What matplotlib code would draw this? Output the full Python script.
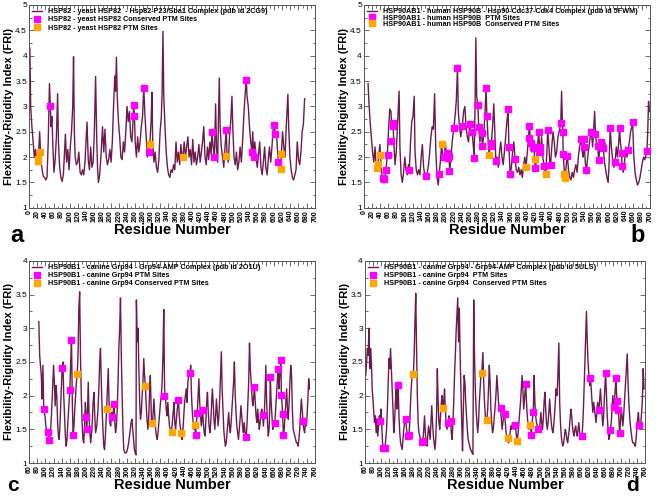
import matplotlib
matplotlib.use('Agg')
import matplotlib.pyplot as plt
from matplotlib.ticker import MultipleLocator

plt.rcParams['font.family'] = ['Liberation Sans', 'DejaVu Sans']

LINE_COLOR = '#6e1a4e'
MAGENTA = '#ff00ff'
ORANGE = '#ffa500'

# ---- panel a: yeast HSP82 (2CG9) ----
a_profile = [
    (2, 4.15), (4, 3.0), (7, 2.6), (10, 2.3), (13, 2.0), (16, 2.15), (19, 1.85), (21, 1.95), (23, 2.0),
    (26, 2.5), (29, 1.95), (32, 1.75), (35, 1.62), (38, 1.6), (41, 1.55), (44, 1.6), (47, 2.3), (50, 3.45),
    (52, 3.0), (54, 2.6), (56, 2.8), (58, 2.3), (61, 1.7), (64, 1.95), (67, 2.4), (70, 3.25), (72, 2.3),
    (75, 1.8), (78, 1.6), (81, 1.52), (84, 1.65), (87, 2.1), (89, 2.45), (92, 1.9), (95, 2.15), (98, 1.75),
    (101, 2.2), (104, 2.5), (107, 3.0), (109, 3.98), (111, 2.5), (113, 2.0), (116, 1.85), (119, 1.9),
    (122, 2.1), (125, 1.7), (128, 1.65), (131, 1.75), (134, 1.65), (137, 1.9), (140, 2.4), (142, 2.69),
    (145, 1.95), (148, 1.75), (151, 2.2), (154, 1.8), (157, 1.9), (160, 2.5), (163, 3.59), (166, 2.3),
    (168, 1.75), (170, 1.5), (173, 1.65), (176, 2.0), (180, 2.6), (183, 2.1), (186, 2.55), (189, 2.0),
    (192, 1.85), (195, 1.95), (198, 2.15), (201, 1.9), (204, 2.3), (207, 3.0), (210, 3.6), (212, 3.3),
    (214, 3.97), (216, 3.2), (219, 2.7), (222, 2.4), (225, 2.0), (228, 1.95), (231, 2.3), (234, 2.1),
    (237, 2.5), (240, 3.0), (243, 2.7), (246, 2.9), (249, 2.4), (252, 2.3), (254, 2.6), (256, 3.03),
    (258, 2.85), (260, 2.3), (263, 2.0), (266, 2.4), (269, 2.1), (272, 2.3), (275, 2.6), (278, 2.8),
    (281, 3.38), (284, 2.8), (287, 2.4), (290, 2.0), (293, 2.1), (296, 2.26), (299, 2.7), (301, 3.28),
    (303, 2.3), (306, 1.9), (309, 2.1), (312, 1.8), (315, 1.7), (318, 1.95), (321, 2.5), (324, 2.8),
    (326, 3.3), (328, 4.48), (330, 3.2), (333, 2.6), (336, 2.1), (339, 1.8), (342, 1.65), (345, 1.6),
    (348, 1.75), (351, 1.7), (354, 1.85), (357, 1.75), (360, 2.3), (363, 1.9), (366, 2.1), (369, 1.85),
    (372, 2.25), (375, 1.95), (377, 2.0), (380, 2.3), (383, 2.0), (386, 2.2), (389, 2.4), (392, 2.0),
    (395, 2.15), (398, 1.85), (401, 2.35), (404, 1.9), (407, 2.1), (410, 1.85), (413, 2.0), (416, 2.25),
    (419, 1.9), (422, 2.1), (425, 2.3), (428, 2.6), (431, 2.0), (434, 1.85), (437, 2.2), (440, 1.95),
    (443, 2.3), (446, 2.05), (448, 2.49), (451, 2.2), (454, 2.0), (457, 3.05), (459, 2.2), (462, 1.9),
    (464, 2.8), (466, 3.56), (468, 2.6), (471, 2.2), (474, 2.0), (477, 1.8), (480, 2.2), (483, 2.53),
    (485, 2.05), (488, 1.9), (491, 2.4), (494, 2.7), (497, 3.2), (499, 2.6), (502, 2.0), (505, 1.85),
    (508, 2.1), (511, 1.75), (514, 1.9), (517, 2.2), (520, 1.9), (523, 2.3), (526, 2.8), (529, 3.2),
    (532, 3.55), (534, 3.2), (537, 3.0), (540, 2.6), (543, 2.3), (546, 2.1), (548, 2.5), (550, 2.01),
    (553, 2.3), (556, 2.0), (559, 1.8), (562, 2.05), (565, 2.3), (568, 1.8), (571, 1.65), (574, 1.9),
    (577, 2.2), (580, 1.8), (583, 1.65), (586, 1.95), (589, 2.2), (592, 1.9), (595, 2.2), (598, 2.55),
    (601, 2.63), (603, 2.45), (606, 2.5), (608, 2.2), (611, 1.9), (614, 1.75), (616, 1.77), (618, 2.07),
    (621, 2.5), (624, 2.2), (627, 2.0), (630, 2.6), (634, 3.24), (636, 2.6), (639, 2.0), (642, 1.75),
    (645, 1.6), (648, 1.55), (651, 1.65), (654, 1.75), (657, 2.3), (660, 1.95), (663, 1.85), (666, 2.1),
    (669, 2.5), (672, 2.65), (675, 3.15),
]
a_magenta = [(52, 3.01), (256, 3.03), (258, 2.82), (281, 3.37), (293, 2.10), (448, 2.49), (454, 2.00),
             (483, 2.53), (532, 3.52), (546, 2.10), (550, 2.01), (601, 2.63), (603, 2.45), (611, 1.90)]
a_orange = [(21, 1.93), (22, 1.97), (26, 2.11), (296, 2.26), (377, 2.00), (483, 2.03), (616, 1.77), (618, 2.07)]
a_labels = ['HSP82 - yeast HSP82  - Hsp82-P23/Sba1 Complex (pdb id 2CG9)',
            'HSP82 - yeast HSP82 Conserved PTM Sites',
            'HSP82 - yeast HSP82 PTM Sites']

# ---- panel b: human HSP90B (5FWM) ----
b_profile = [
    (10, 3.45), (12, 3.1), (15, 2.7), (18, 2.4), (21, 2.1), (24, 1.9), (27, 2.2), (30, 1.75), (33, 1.8),
    (36, 2.0), (39, 2.25), (42, 1.8), (45, 1.6), (48, 1.5), (51, 1.6), (54, 1.75), (57, 2.05), (60, 2.5),
    (63, 2.95), (66, 2.9), (68, 2.6), (71, 2.67), (73, 2.3), (76, 1.85), (79, 2.1), (82, 2.6), (86, 3.3),
    (88, 2.2), (91, 1.65), (94, 1.5), (97, 1.7), (100, 2.0), (103, 1.75), (106, 1.65), (109, 1.85),
    (111, 1.74), (114, 2.3), (117, 2.7), (120, 2.8), (123, 3.2), (125, 2.1), (128, 1.75), (131, 1.65),
    (134, 1.75), (137, 1.65), (140, 2.0), (143, 2.25), (146, 1.8), (149, 1.65), (152, 1.62), (155, 1.7),
    (158, 1.85), (161, 2.1), (164, 2.4), (167, 2.6), (170, 2.55), (173, 3.25), (176, 2.1), (179, 1.6),
    (182, 1.45), (184, 1.67), (187, 1.9), (190, 2.25), (193, 2.0), (196, 1.95), (199, 2.3), (202, 2.05),
    (205, 2.0), (208, 2.05), (210, 1.73), (213, 2.0), (216, 2.3), (220, 2.57), (223, 2.8), (226, 3.1),
    (229, 3.75), (231, 2.9), (234, 2.6), (237, 2.4), (241, 2.62), (244, 2.9), (247, 3.0), (250, 2.6),
    (253, 2.4), (256, 2.3), (259, 2.66), (262, 2.5), (265, 2.5), (268, 2.2), (270, 1.98), (272, 3.0),
    (274, 4.35), (276, 3.2), (279, 3.02), (281, 2.6), (284, 2.3), (286, 2.5), (288, 2.48), (290, 2.22),
    (293, 2.4), (296, 2.8), (299, 3.36), (301, 2.82), (303, 2.5), (306, 2.04), (309, 2.2), (312, 2.28),
    (315, 2.6), (318, 3.05), (321, 2.4), (323, 1.93), (326, 2.0), (329, 1.8), (332, 2.1), (335, 2.3),
    (338, 2.0), (341, 1.85), (344, 2.1), (347, 2.4), (350, 2.7), (353, 2.94), (355, 2.2), (358, 1.66),
    (361, 1.8), (364, 2.1), (367, 2.3), (370, 1.97), (373, 1.75), (376, 1.7), (379, 1.8), (382, 1.65),
    (385, 1.75), (388, 1.6), (391, 1.85), (394, 2.0), (397, 1.81), (400, 2.1), (403, 2.38), (405, 2.62),
    (407, 2.4), (409, 2.27), (411, 2.1), (413, 2.2), (416, 2.18), (418, 1.97), (420, 1.78), (423, 2.0),
    (426, 2.3), (428, 2.5), (430, 2.2), (432, 2.1), (435, 2.4), (438, 2.0), (441, 1.83), (443, 1.75),
    (445, 1.67), (448, 2.1), (450, 2.54), (453, 2.2), (455, 1.9), (457, 1.85), (460, 2.2), (463, 2.5),
    (466, 2.3), (469, 2.0), (472, 2.1), (475, 2.4), (478, 2.5), (482, 2.67), (484, 3.3), (486, 2.7),
    (487, 2.5), (488, 2.06), (490, 1.8), (491, 1.67), (492, 1.58), (494, 1.7), (496, 1.9), (498, 2.03),
    (501, 1.75), (504, 1.6), (507, 1.55), (510, 1.7), (513, 1.6), (516, 1.75), (519, 1.85), (522, 1.7),
    (525, 2.0), (528, 2.2), (532, 2.35), (535, 2.1), (537, 2.0), (539, 2.35), (540, 2.2), (542, 1.9),
    (545, 1.74), (548, 2.0), (551, 2.2), (554, 2.4), (557, 2.49), (560, 2.2), (563, 2.6), (565, 2.9),
    (567, 2.46), (569, 2.3), (572, 2.22), (575, 1.95), (577, 2.1), (580, 2.3), (583, 2.22), (586, 2.18),
    (589, 1.9), (592, 1.75), (595, 1.6), (598, 1.5), (600, 1.8), (603, 2.57), (606, 2.2), (609, 1.95),
    (612, 1.8), (615, 1.9), (618, 2.2), (621, 2.0), (624, 2.3), (626, 2.58), (628, 2.3), (631, 2.08),
    (632, 1.82), (635, 1.7), (638, 1.9), (641, 2.2), (644, 2.0), (647, 2.14), (650, 2.3), (653, 2.5),
    (656, 2.6), (658, 2.7), (661, 2.0), (664, 1.7), (667, 1.55), (670, 1.45), (673, 1.5), (676, 1.6),
    (679, 1.75), (682, 1.9), (685, 2.0), (688, 1.95), (691, 2.05), (693, 2.12), (695, 2.5), (697, 3.1),
    (699, 2.9),
]
b_magenta = [(46, 1.58), (49, 1.56), (55, 1.74), (58, 2.04), (66, 2.32), (71, 2.67), (72, 2.62), (111, 1.74),
             (152, 1.62), (184, 1.67), (197, 2.01), (204, 2.08), (206, 1.98), (208, 2.02), (209, 1.73),
             (220, 2.57), (229, 3.75), (241, 2.62), (259, 2.66), (265, 2.50), (270, 1.98), (279, 3.02),
             (281, 2.60), (288, 2.48), (290, 2.22), (299, 3.36), (301, 2.82), (311, 2.22), (312, 2.28),
             (323, 1.93), (353, 2.94), (355, 2.20), (358, 1.66), (370, 1.97), (403, 2.38), (405, 2.62),
             (409, 2.27), (413, 2.20), (416, 2.18), (420, 1.78), (428, 2.50), (431, 2.10), (432, 2.20),
             (441, 1.83), (450, 2.54), (457, 1.85), (482, 2.67), (487, 2.50), (488, 2.06), (498, 2.03),
             (532, 2.35), (539, 2.35), (540, 2.20), (545, 1.74), (557, 2.49), (567, 2.46), (572, 2.22),
             (575, 1.95), (580, 2.30), (583, 2.22), (586, 2.18), (603, 2.57), (615, 1.90), (626, 2.58),
             (631, 2.08), (632, 1.82), (647, 2.14), (658, 2.70), (693, 2.12)]
b_orange = [(33, 1.78), (34, 1.86), (39, 2.04), (190, 2.25), (306, 2.04), (397, 1.81), (418, 1.97),
            (445, 1.67), (491, 1.67), (492, 1.58)]
b_labels = ['HSP90AB1 - human HSP90B - Hsp90-Cdc37-Cdk4 Complex (pdb id 5FWM)',
            'HSP90AB1 - human HSP90B  PTM Sites',
            'HSP90AB1 - human HSP90B  Conserved PTM Sites']

# ---- panel c: canine Grp94 (2O1U) ----
c_profile = [
    (84, 3.1), (86, 2.6), (88, 2.45), (90, 2.3), (92, 1.95), (94, 2.45), (96, 1.8), (99, 1.7), (102, 1.5),
    (104, 1.45), (106, 1.46), (108, 1.34), (110, 1.3), (112, 1.45), (114, 1.6), (117, 2.0), (120, 2.45),
    (122, 2.2), (124, 1.85), (126, 2.15), (128, 2.0), (130, 1.6), (132, 1.4), (134, 1.35), (136, 1.6),
    (139, 2.1), (141, 2.41), (143, 2.5), (145, 2.0), (147, 1.7), (149, 1.4), (151, 1.25), (153, 1.35),
    (155, 1.6), (158, 1.9), (160, 2.09), (162, 2.5), (164, 2.83), (166, 1.9), (168, 1.41), (170, 1.55),
    (172, 1.8), (174, 2.0), (176, 2.2), (178, 2.32), (180, 2.6), (182, 3.3), (184, 3.54), (186, 2.6),
    (188, 2.0), (190, 1.6), (192, 1.35), (194, 1.3), (196, 1.55), (198, 1.9), (200, 1.68), (201, 1.5),
    (203, 1.7), (205, 2.2), (207, 1.7), (209, 1.45), (211, 1.3), (214, 1.5), (217, 1.9), (219, 2.05),
    (221, 1.7), (223, 1.45), (226, 1.55), (229, 1.8), (231, 2.1), (233, 2.5), (235, 2.7), (237, 2.2),
    (239, 1.8), (241, 1.5), (243, 1.25), (245, 1.2), (247, 1.4), (249, 1.65), (250, 1.8), (252, 2.1),
    (254, 2.4), (256, 1.9), (258, 1.6), (260, 1.55), (262, 1.75), (264, 1.68), (266, 1.75), (268, 1.88),
    (270, 1.6), (272, 1.45), (274, 1.55), (276, 1.8), (278, 2.2), (280, 2.7), (282, 3.0), (284, 3.45),
    (286, 2.6), (288, 2.0), (290, 1.5), (292, 1.2), (295, 1.15), (298, 1.15), (301, 1.2), (304, 1.3),
    (307, 1.45), (310, 1.6), (312, 1.65), (314, 1.5), (316, 1.35), (318, 1.2), (320, 1.15), (322, 1.12),
    (323, 3.42), (325, 2.8), (327, 3.0), (329, 2.4), (331, 1.9), (333, 1.65), (335, 1.75), (337, 2.0),
    (339, 2.2), (341, 2.55), (343, 2.3), (345, 2.14), (347, 1.85), (349, 1.65), (351, 1.5), (353, 1.65),
    (355, 2.0), (357, 2.3), (359, 1.8), (360, 1.6), (362, 1.55), (364, 1.75), (366, 1.95), (368, 1.7),
    (370, 1.5), (372, 1.4), (374, 1.35), (376, 1.45), (378, 1.6), (380, 1.75), (382, 1.9), (384, 2.0),
    (386, 2.2), (388, 2.6), (390, 3.28), (392, 2.1), (394, 1.99), (396, 1.8), (398, 1.7), (400, 1.9),
    (402, 1.7), (404, 1.55), (406, 1.5), (409, 1.46), (411, 1.6), (413, 1.75), (415, 1.9), (417, 1.6),
    (419, 1.5), (421, 1.65), (423, 1.8), (426, 1.93), (428, 1.7), (430, 1.55), (433, 1.45), (435, 1.35),
    (437, 1.5), (439, 1.7), (441, 1.9), (443, 2.0), (445, 2.1), (447, 1.9), (449, 2.2), (451, 2.3),
    (454, 2.33), (456, 2.45), (458, 2.0), (460, 1.75), (462, 1.6), (464, 1.5), (466, 1.57), (468, 1.41),
    (470, 1.6), (472, 1.74), (474, 2.0), (476, 2.25), (478, 1.9), (480, 1.7), (482, 1.55), (485, 1.78),
    (487, 1.6), (489, 1.45), (491, 1.4), (493, 1.6), (495, 1.9), (497, 2.05), (499, 1.75), (501, 1.55),
    (503, 1.45), (505, 1.6), (507, 1.85), (509, 2.1), (511, 1.9), (513, 1.65), (515, 1.5), (517, 1.7),
    (519, 1.95), (521, 1.75), (523, 1.55), (525, 1.7), (527, 1.95), (529, 2.3), (531, 2.65), (533, 2.1),
    (535, 1.8), (537, 1.5), (539, 1.35), (541, 1.25), (543, 1.3), (545, 1.45), (547, 1.6), (549, 1.75),
    (551, 1.55), (553, 1.45), (555, 1.6), (557, 1.8), (559, 2.0), (561, 2.2), (563, 2.5), (565, 2.0),
    (567, 1.75), (569, 1.55), (571, 1.45), (573, 1.35), (575, 1.5), (577, 1.65), (579, 1.85), (581, 1.7),
    (583, 1.55), (585, 1.45), (587, 1.6), (589, 1.45), (592, 1.39), (594, 1.6), (596, 1.9), (598, 2.2),
    (600, 2.78), (602, 2.4), (604, 2.2), (606, 2.0), (608, 1.85), (610, 1.95), (612, 2.13), (614, 1.9),
    (616, 1.7), (618, 1.6), (620, 1.8), (622, 1.65), (624, 1.5), (626, 1.6), (628, 1.75), (630, 1.8),
    (632, 1.72), (634, 1.55), (636, 1.7), (638, 2.0), (640, 2.45), (642, 1.9), (644, 1.6), (646, 1.4),
    (648, 1.5), (650, 1.9), (651, 2.28), (653, 1.9), (655, 1.7), (657, 1.5), (659, 1.55), (662, 1.59),
    (664, 1.8), (666, 2.0), (668, 2.2), (670, 2.4), (672, 2.1), (674, 2.3), (677, 2.53), (678, 2.01),
    (680, 1.85), (681, 1.73), (683, 1.41), (685, 1.5), (687, 1.7), (689, 1.9), (691, 2.1), (693, 1.8),
    (695, 1.65), (697, 1.9), (699, 2.2), (701, 2.45), (703, 2.3), (705, 1.8), (707, 1.5), (709, 1.45),
    (711, 1.4), (713, 1.35), (715, 1.3), (717, 1.3), (719, 1.25), (721, 1.35), (723, 1.5), (725, 1.75),
    (727, 1.95), (729, 1.8), (731, 1.62), (733, 1.5), (735, 1.45), (737, 1.6), (739, 1.55), (741, 1.7),
    (743, 1.95), (745, 2.25), (747, 2.1),
]
c_magenta = [(96, 1.80), (106, 1.46), (108, 1.34), (141, 2.41), (160, 2.09), (164, 2.83), (168, 1.41),
             (200, 1.68), (201, 1.50), (264, 1.68), (268, 1.88), (390, 1.99), (426, 1.93), (454, 2.33),
             (468, 1.41), (472, 1.74), (485, 1.78), (592, 1.39), (612, 2.13), (632, 1.72), (651, 2.28),
             (662, 1.59), (670, 2.40), (677, 2.53), (678, 2.01), (681, 1.73), (683, 1.41), (731, 1.62)]
c_orange = [(178, 2.32), (250, 1.80), (345, 2.14), (360, 1.60), (409, 1.46), (433, 1.45), (466, 1.57)]
c_labels = ['HSP90B1 - canine Grp94 - Grp94-AMP Complex (pdb id 2O1U)',
            'HSP90B1 - canine Grp94 PTM Sites',
            'HSP90B1 - canine Grp94 Conserved PTM Sites']

# ---- panel d: canine Grp94 (5ULS) ----
d_profile = [
    (60, 2.7), (62, 2.3), (64, 2.5), (66, 2.7), (68, 2.6), (70, 3.0), (72, 2.4), (74, 2.7), (76, 2.5),
    (78, 2.1), (80, 1.95), (82, 1.75), (84, 1.6), (86, 1.7), (88, 1.45), (90, 1.65), (92, 1.4), (94, 1.55),
    (96, 1.7), (98, 1.63), (100, 1.8), (102, 1.55), (104, 1.3), (106, 1.22), (108, 1.2), (110, 1.22),
    (112, 1.35), (114, 1.5), (116, 1.8), (118, 2.2), (120, 2.55), (122, 2.4), (124, 2.7), (126, 2.4),
    (128, 2.1), (130, 1.8), (132, 1.45), (134, 1.6), (136, 1.9), (138, 2.1), (140, 1.8), (142, 1.95),
    (143, 2.16), (145, 1.7), (147, 1.45), (149, 1.3), (151, 1.25), (153, 1.2), (155, 1.35), (157, 1.5),
    (159, 1.6), (162, 1.65), (164, 1.5), (167, 1.4), (170, 1.42), (172, 1.6), (174, 1.9), (176, 2.15),
    (178, 2.3), (181, 2.32), (183, 2.6), (185, 3.1), (187, 3.52), (189, 2.7), (191, 2.0), (193, 1.6),
    (195, 1.45), (197, 1.4), (199, 1.35), (202, 1.31), (205, 1.33), (207, 1.5), (209, 1.7), (211, 1.45),
    (213, 1.3), (215, 1.25), (217, 1.4), (219, 1.55), (221, 1.45), (223, 1.35), (225, 1.6), (227, 1.85),
    (229, 1.6), (231, 1.4), (233, 1.3), (235, 1.2), (237, 1.35), (239, 1.7), (241, 2.4), (243, 1.9),
    (245, 1.6), (247, 1.5), (249, 1.7), (251, 1.9), (253, 2.0), (255, 1.82), (257, 1.9), (259, 2.1),
    (261, 1.8), (263, 1.6), (265, 1.5), (268, 1.6), (270, 1.7), (272, 1.55), (274, 1.62), (276, 1.45),
    (278, 1.35), (280, 1.6), (282, 1.9), (284, 2.3), (286, 2.6), (288, 2.95), (290, 3.2), (292, 3.45),
    (294, 2.8), (296, 3.3), (298, 2.6), (300, 2.1), (302, 1.6), (304, 1.18), (306, 1.8), (308, 2.3),
    (310, 2.2), (312, 1.9), (314, 1.7), (316, 1.5), (318, 1.35), (320, 1.3), (322, 1.25), (324, 1.2),
    (326, 1.18), (328, 1.15), (330, 1.13), (332, 3.42), (334, 2.6), (336, 2.1), (338, 1.8), (340, 1.6),
    (342, 1.45), (344, 1.6), (346, 1.9), (348, 2.1), (350, 2.3), (352, 2.33), (355, 2.64), (357, 2.2),
    (359, 1.9), (361, 1.7), (363, 1.6), (365, 1.64), (367, 1.8), (369, 2.1), (371, 2.45), (373, 2.2),
    (375, 1.8), (377, 1.6), (379, 1.45), (381, 1.5), (383, 1.65), (385, 1.8), (387, 1.95), (390, 2.3),
    (392, 2.1), (394, 1.9), (396, 1.8), (399, 1.82), (401, 1.65), (403, 1.5), (405, 1.6), (407, 1.7),
    (409, 1.73), (411, 1.6), (413, 1.45), (415, 1.4), (417, 1.37), (419, 1.3), (421, 1.35), (423, 1.45),
    (425, 1.55), (427, 1.5), (429, 1.6), (431, 1.55), (433, 1.5), (435, 1.57), (437, 1.5), (439, 1.4),
    (441, 1.33), (443, 1.45), (445, 1.6), (447, 1.75), (449, 1.9), (451, 2.1), (453, 2.3), (455, 2.1),
    (457, 1.8), (459, 1.95), (462, 2.18), (464, 1.9), (466, 1.7), (468, 1.55), (470, 1.5), (472, 1.55),
    (474, 1.57), (476, 1.41), (478, 1.6), (481, 1.75), (483, 2.3), (485, 1.9), (487, 1.7), (489, 1.6),
    (491, 1.55), (494, 1.51), (496, 1.45), (498, 1.6), (500, 1.75), (502, 1.6), (504, 1.5), (506, 1.65),
    (508, 1.9), (510, 2.05), (512, 1.8), (514, 1.6), (516, 1.5), (518, 1.6), (520, 1.75), (522, 1.95),
    (524, 1.75), (526, 1.6), (528, 1.5), (530, 1.45), (532, 1.55), (534, 1.7), (536, 1.9), (538, 2.1),
    (540, 2.0), (542, 2.2), (545, 2.78), (547, 1.9), (549, 1.6), (551, 1.4), (553, 1.3), (555, 1.25),
    (557, 1.3), (559, 1.4), (561, 1.5), (563, 1.45), (565, 1.35), (567, 1.3), (569, 1.4), (571, 1.5),
    (573, 1.65), (575, 1.8), (577, 1.7), (579, 1.55), (581, 1.45), (583, 1.4), (585, 1.5), (587, 1.55),
    (589, 1.45), (591, 1.4), (593, 1.5), (595, 1.6), (597, 1.45), (599, 1.4), (601, 1.35), (603, 1.4),
    (605, 1.6), (607, 1.9), (609, 2.3), (611, 2.7), (614, 3.25), (616, 2.8), (618, 2.5), (620, 2.3),
    (622, 2.15), (624, 2.26), (626, 2.1), (628, 1.9), (630, 1.75), (632, 1.9), (634, 1.8), (636, 1.7),
    (638, 1.6), (640, 1.75), (642, 1.9), (645, 1.78), (647, 1.95), (649, 2.1), (651, 1.9), (653, 1.7),
    (655, 1.55), (657, 1.7), (659, 2.0), (662, 2.34), (664, 2.0), (666, 1.7), (668, 1.5), (670, 1.35),
    (672, 1.4), (674, 1.49), (676, 1.6), (678, 1.8), (680, 2.0), (682, 1.83), (684, 1.9), (686, 2.1),
    (688, 2.26), (690, 1.92), (692, 1.85), (694, 1.78), (697, 1.44), (699, 1.6), (701, 1.8), (703, 1.7),
    (705, 1.55), (707, 1.7), (709, 1.9), (711, 2.1), (713, 2.3), (716, 2.62), (718, 2.2), (720, 1.9),
    (722, 1.7), (724, 1.55), (726, 1.45), (728, 1.35), (730, 1.3), (732, 1.3), (734, 1.28), (736, 1.25),
    (738, 1.35), (740, 1.5), (742, 1.65), (744, 1.75), (746, 1.57), (748, 1.5), (750, 1.6), (752, 1.75),
    (754, 1.95), (756, 2.4), (758, 2.1),
]
d_magenta = [(98, 1.63), (106, 1.22), (110, 1.22), (143, 2.16), (162, 1.65), (167, 1.40), (170, 1.42),
             (202, 1.31), (205, 1.33), (268, 1.60), (274, 1.62), (399, 1.82), (409, 1.73), (435, 1.57),
             (462, 2.18), (476, 1.41), (481, 1.75), (494, 1.51), (603, 1.40), (624, 2.26), (645, 1.78),
             (662, 2.34), (674, 1.49), (682, 1.83), (688, 2.26), (690, 1.92), (694, 1.78), (697, 1.44),
             (746, 1.57)]
d_orange = [(181, 2.32), (255, 1.82), (352, 2.33), (365, 1.64), (417, 1.37), (441, 1.33), (474, 1.57)]
d_labels = ['HSP90B1 - canine Grp94 - Grp94-AMP Complex (pdb id 5ULS)',
            'HSP90B1 - canine Grp94  PTM Sites',
            'HSP90B1 - canine Grp94  Conserved PTM Sites']


def draw_panel(ax, profile, magenta, orange, labels, xlim, ylim, legend_spacing=0.15):
    res, fri = zip(*profile)
    ax.plot(res, fri, color=LINE_COLOR, lw=1.0, label=labels[0], zorder=2)
    mx, my = zip(*magenta)
    ax.plot(mx, my, 's', color=MAGENTA, ms=4.3, ls='none', label=labels[1], zorder=3)
    ox, oy = zip(*orange)
    ax.plot(ox, oy, 's', color=ORANGE, ms=4.3, ls='none', label=labels[2], zorder=3)

    ax.set_xlim(*xlim)
    ax.set_ylim(*ylim)
    ax.xaxis.set_major_locator(MultipleLocator(20))
    ax.xaxis.set_minor_locator(MultipleLocator(10))
    ax.yaxis.set_major_locator(MultipleLocator(0.5))
    ax.yaxis.set_minor_locator(MultipleLocator(0.25))
    ax.tick_params(which='both', direction='in', top=True, right=True, color='#555555', width=0.6)
    ax.tick_params(which='major', length=3.5)
    ax.tick_params(which='minor', length=1.8)
    ax.tick_params(axis='x', labelsize=5, labelrotation=90, pad=1.5)
    ax.tick_params(axis='y', labelsize=6, pad=1.5)
    for lab in ax.get_xticklabels():
        lab.set_fontweight('bold')
    ax.yaxis.set_major_formatter(matplotlib.ticker.FuncFormatter(lambda v, p: ('%g' % v)))
    for sp in ax.spines.values():
        sp.set_color('#555555')
        sp.set_linewidth(0.7)

    ax.set_xlabel('Residue Number', fontsize=10.5, fontweight='bold', labelpad=1)
    ax.set_ylabel('Flexibility-Rigidity Index (FRI)', fontsize=8, fontweight='bold', labelpad=1)
    ax.legend(loc='upper left', frameon=False, prop={'weight': 'bold', 'size': 5.2},
              handlelength=1.4, handletextpad=0.8, labelspacing=legend_spacing,
              borderaxespad=0.25, borderpad=0.2)


fig = plt.figure(figsize=(6.6, 4.96), dpi=100)
ax_a = fig.add_axes([0.044, 0.581, 0.433, 0.409])
ax_b = fig.add_axes([0.5515, 0.581, 0.433, 0.409])
ax_c = fig.add_axes([0.044, 0.0665, 0.433, 0.4075])
ax_d = fig.add_axes([0.553, 0.0665, 0.424, 0.4075])

draw_panel(ax_a, a_profile, a_magenta, a_orange, a_labels, (0, 700), (1, 5))
draw_panel(ax_b, b_profile, b_magenta, b_orange, b_labels, (0, 700), (1, 5), legend_spacing=-0.1)
draw_panel(ax_c, c_profile, c_magenta, c_orange, c_labels, (60, 760), (1, 4))
draw_panel(ax_d, d_profile, d_magenta, d_orange, d_labels, (60, 760), (1, 4))

# panel letters
fig.text(0.016, 0.512, 'a', fontsize=17, fontweight='bold', va='baseline', ha='left')
fig.text(0.956, 0.512, 'b', fontsize=17, fontweight='bold', va='baseline', ha='left')
fig.text(0.011, 0.003, 'c', fontsize=15, fontweight='bold', va='bottom', ha='left')
fig.text(0.948, 0.003, 'd', fontsize=15, fontweight='bold', va='bottom', ha='left')

fig.savefig('out.png', dpi=100)
